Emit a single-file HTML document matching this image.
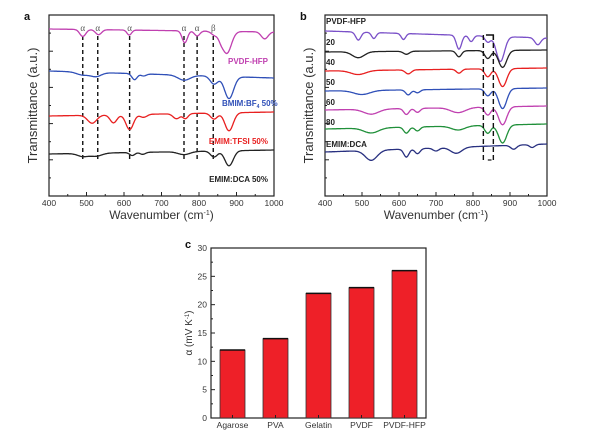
<!DOCTYPE html>
<html><head><meta charset="utf-8"><style>
html,body{margin:0;padding:0;background:#fff;}
svg{display:block;font-family:"Liberation Sans",Arial,sans-serif;}
</style></head><body>
<svg id="fig" width="600" height="438" viewBox="0 0 600 438"></svg>
<script>
// ---------- DATA ----------
// Panel a spectra: baseline(left,right) offset and peaks [wavenumber, depth, width]
const aNames = ["PVDF-HFP","BMIM:BF4 50%","EMIM:TFSI 50%","EMIM:DCA 50%"];
const aBase = [[29,32],[71,78],[116,112],[154,150]];
const aPeaks = [
 [[490,7,8],[532,5,8],[614,5,6],[762,12,7],[795,5,7],[842,4,9],[858,4,6],[874,22,12],[975,7,9]],
 [[490,3,16],[525,4,14],[628,6,7],[652,2,7],[760,5,16],[840,8,10],[880,22,12]],
 [[515,8,12],[572,8,9],[615,15,10],[652,3,9],[740,5,9],[764,5,7],[840,6,9],[880,18,11]],
 [[490,3,14],[525,3,16],[622,3,7],[650,2,7],[760,3,16],[840,6,9],[880,15,11]]
];
const aColors = ["#c040b0","#3050b8","#e82020","#222222"];
const aDashed = [490,530,615,760,795,838];
const aMarks = ["α","α","α","α","α","β"];
// Panel b
const bNames = ["PVDF-HFP","20","40","50","60","80","EMIM:DCA"];
const bBase = [[31,38],[52,50],[71,68],[91,88],[110,106],[129,124],[152,144]];
const bPeaks = [
 [[490,8,7],[532,6,6],[612,6,6],[762,14,7],[795,6,6],[840,6,7],[874,25,11],[975,7,8]],
 [[490,6,16],[620,3,8],[762,6,7],[840,8,8],[880,17,11]],
 [[490,4,20],[625,4,8],[762,4,7],[840,8,8],[880,18,11]],
 [[500,4,22],[625,5,7],[650,3,7],[840,7,8],[880,20,11]],
 [[525,5,20],[620,6,7],[650,4,7],[760,5,20],[840,8,8],[880,18,11]],
 [[525,5,20],[620,6,7],[650,4,7],[760,4,18],[840,8,8],[880,18,11]],
 [[525,10,16],[620,8,7],[650,5,7],[700,3,8],[755,6,15],[910,4,8],[960,3,7]]
];
const bColors = ["#7a50c8","#222222","#e82020","#3050b8","#c040b0","#20903a","#283080"];
// Panel c
const cCats = ["Agarose","PVA","Gelatin","PVDF","PVDF-HFP"];
const cVals = [12,14,22,23,26];
const cTicks = [0,5,10,15,20,25,30];
const xTicks = [400,500,600,700,800,900,1000];

// ---------- HELPERS ----------
const svg = document.getElementById('fig');
const NS = "http://www.w3.org/2000/svg";
function el(tag, attrs, parent){ const e=document.createElementNS(NS,tag); for(const k in attrs) e.setAttribute(k,attrs[k]); (parent||svg).appendChild(e); return e; }
function txt(s, attrs, name){ const t=el('text',attrs); t.textContent=s;
 
 
 return t; }

function spectrum(base, peaks, w){
  const l=base[0], r=base[1];
  let y = l + (r-l)*(w-400)/600;
  for(const p of peaks){ y += p[1]*Math.exp(-((w-p[0])**2)/(2*p[2]*p[2])); }
  return y;
}

function panel(opts){
  const {x0,x1,y0,y1,letter,lx,ly,pname}=opts;
  const sx = w => x0 + (w-400)/600*(x1-x0);
  const g = el('g',{});
  
  
  el('rect',{x:x0,y:y0,width:x1-x0,height:y1-y0,fill:'none',stroke:'#222','stroke-width':1.2},g);
  xTicks.forEach((t,i)=>{
    const X=sx(t);
    el('line',{x1:X,y1:y1,x2:X,y2:y1-4,stroke:'#222'},g);
    if(i<xTicks.length-1) el('line',{x1:sx(t+50),y1:y1,x2:sx(t+50),y2:y1-2,stroke:'#222'},g);
    txt(String(t),{x:X,y:y1+10,'font-size':8.5,'text-anchor':'middle',fill:'#333'},'x-tick-label');
  });
  for(let k=0;k<=10;k++){ const Y=y1-k*(y1-y0)/10; el('line',{x1:x0,y1:Y,x2:x0+(k%2?2:4),y2:Y,stroke:'#222'},g); }
  txt(letter,{x:lx,y:ly,'font-size':11,'font-weight':'bold',fill:'#111'},'panel-letter');
  const xl=txt('Wavenumber (cm',{x:(x0+x1)/2,y:y1+23,'font-size':12,'text-anchor':'middle',fill:'#333'},'x-axis-title');
  const sp=el('tspan',{dy:-4,'font-size':7},xl); sp.textContent='-1';
  const sp2=el('tspan',{dy:4},xl); sp2.textContent=')';
  txt('Transmittance (a.u.)',{x:0,y:0,'font-size':13,'text-anchor':'middle',fill:'#333',transform:`translate(${x0-12},${(y0+y1)/2}) rotate(-90)`},'y-axis-title');
  return sx;
}

// ---------- PANEL A ----------
const sxa = panel({x0:49,x1:274,y0:15,y1:196,letter:'a',lx:24,ly:20,pname:'panel-a'});
aDashed.forEach((w,i)=>{
  const d=el('line',{x1:sxa(w),y1:36,x2:sxa(w),y2:160,stroke:'#111','stroke-width':1.4,'stroke-dasharray':'4,3'});
  
  
  txt(aMarks[i],{x:sxa(w),y:31,'font-size':9,'text-anchor':'middle',fill:'#555','font-family':'Liberation Serif'},'peak-label');
});
aPeaks.forEach((pk,i)=>{
  let d='';
  for(let w=400;w<=1000;w+=2){ d+=(w===400?'M':'L')+sxa(w).toFixed(1)+','+spectrum(aBase[i],pk,w).toFixed(1); }
  const p=el('path',{d,fill:'none',stroke:aColors[i],'stroke-width':1.3});
  
  
});
txt('PVDF-HFP',{x:268,y:64,'font-size':8,'text-anchor':'end',fill:'#c040b0','font-weight':'bold'},'label-pvdf-hfp');
const bl=txt('BMIM:BF',{x:222,y:106,'font-size':8,fill:'#3050b8','font-weight':'bold'},'label-bmim');
const bs=el('tspan',{dy:2,'font-size':5},bl); bs.textContent='4';
const bs2=el('tspan',{dy:-2},bl); bs2.textContent='  50%';
txt('EMIM:TFSI 50%',{x:268,y:144,'font-size':8,'text-anchor':'end',fill:'#e82020','font-weight':'bold'},'label-tfsi');
txt('EMIM:DCA 50%',{x:268,y:182,'font-size':8,'text-anchor':'end',fill:'#222','font-weight':'bold'},'label-dca');

// ---------- PANEL B ----------
const sxb = panel({x0:325,x1:547,y0:15,y1:196,letter:'b',lx:300,ly:20,pname:'panel-b'});
bPeaks.forEach((pk,i)=>{
  let d='';
  for(let w=400;w<=1000;w+=2){ d+=(w===400?'M':'L')+sxb(w).toFixed(1)+','+spectrum(bBase[i],pk,w).toFixed(1); }
  const p=el('path',{d,fill:'none',stroke:bColors[i],'stroke-width':1.3});
  
  
});
const bLabelY=[24,45,65,85,105,125,147];
bNames.forEach((n,i)=>{ txt(n,{x:326,y:bLabelY[i],'font-size':8,'font-weight':'bold',fill:'#222'},'label-b-'+i); });
[828,855].forEach(w=>{
  const d=el('line',{x1:sxb(w),y1:35,x2:sxb(w),y2:162,stroke:'#111','stroke-width':1.4,'stroke-dasharray':'5,3'});
  
  
});
el('polyline',{points:`${sxb(835)},35 ${sxb(855)},35 ${sxb(855)},40`,fill:'none',stroke:'#111','stroke-width':1.4});
el('line',{x1:sxb(840),y1:160,x2:sxb(850),y2:160,stroke:'#111','stroke-width':1.2});

// ---------- PANEL C ----------
const cx0=211,cx1=426,cy0=248,cy1=418;
const syc = v => cy1 - v/30*(cy1-cy0);
const gc=el('g',{});


el('rect',{x:cx0,y:cy0,width:cx1-cx0,height:cy1-cy0,fill:'none',stroke:'#222','stroke-width':1.2},gc);
cTicks.forEach((t,i)=>{
  const Y=syc(t);
  el('line',{x1:cx0,y1:Y,x2:cx0+4,y2:Y,stroke:'#222'},gc);
  if(i<cTicks.length-1) el('line',{x1:cx0,y1:syc(t+2.5),x2:cx0+2,y2:syc(t+2.5),stroke:'#222'},gc);
  txt(String(t),{x:cx0-4,y:Y+3,'font-size':8.5,'text-anchor':'end',fill:'#333'},'y-tick-label');
});
const bw=(cx1-cx0)/cCats.length;
cCats.forEach((c,i)=>{
  const cx=cx0+bw*(i+0.5);
  const r=el('rect',{x:cx-12.5,y:syc(cVals[i]),width:25,height:cy1-syc(cVals[i]),fill:'#ee2028',stroke:'#333','stroke-width':0.8});
  
  
  el('line',{x1:cx-12.5,y1:syc(cVals[i]),x2:cx+12.5,y2:syc(cVals[i]),stroke:'#111','stroke-width':1.5});
  el('line',{x1:cx,y1:cy1,x2:cx,y2:cy1-3,stroke:'#222'});
  txt(c,{x:cx,y:cy1+10,'font-size':8.5,'text-anchor':'middle',fill:'#333'},'x-category-label');
});
txt('c',{x:185,y:248,'font-size':11,'font-weight':'bold',fill:'#111'},'panel-letter');
const yc=txt('α (mV K',{x:0,y:0,'font-size':10,'text-anchor':'middle',fill:'#333',transform:`translate(192,${(cy0+cy1)/2}) rotate(-90)`},'y-axis-title-c');
const ys=el('tspan',{dy:-3,'font-size':6},yc); ys.textContent='-1';
const ys2=el('tspan',{dy:3},yc); ys2.textContent=')';
</script>
</body></html>
